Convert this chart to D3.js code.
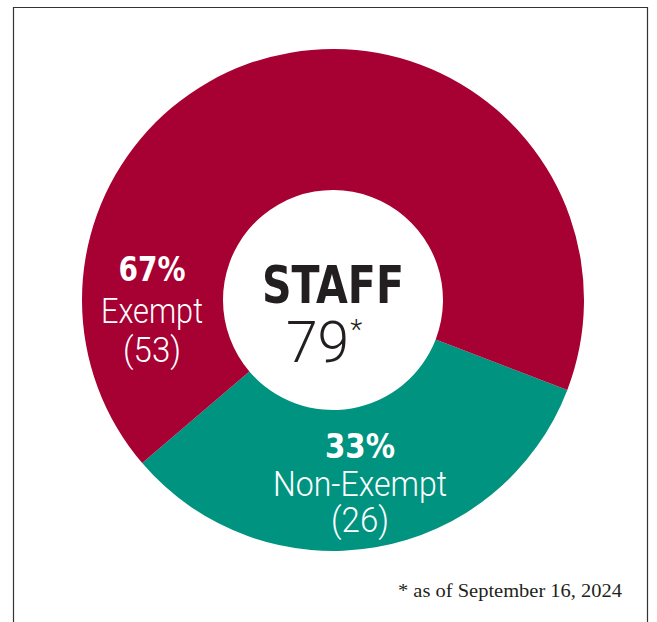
<!DOCTYPE html>
<html><head><meta charset="utf-8">
<script src="https://cdn.jsdelivr.net/npm/d3@7/dist/d3.min.js"></script>
<style>html,body{margin:0;padding:0;background:#fff;}svg{display:block;}</style>
</head><body>
<script>
const categories = ["Non-Exempt", "Exempt"];
const counts = [26, 53];
const percents = ["33%", "67%"];
const colors = ["#00937f", "#a70033"];
const total = 79;
const title = "STAFF";
const footnote = "* as of September 16, 2024";

const W = 657, H = 622;
const cx = 333, cy = 300, R = 251, r = 110;
const svg = d3.select("body").append("svg").attr("width", W).attr("height", H);

// frame
svg.append("path").attr("d", `M13.5,${H} V7.5 H647.5 V${H}`).attr("fill","none").attr("stroke","#333").attr("stroke-width",1.2);

const data = categories.map((c,i)=>({cat:c, count:counts[i], pct:percents[i], color:colors[i]}));
const a0 = 111*Math.PI/180;
const pie = d3.pie().value(d=>d.count).sort(null).startAngle(a0).endAngle(a0+2*Math.PI);
const arc = d3.arc().innerRadius(r).outerRadius(R);
const g = svg.append("g").attr("transform",`translate(${cx},${cy})`);
g.selectAll("path.slice").data(pie(data)).join("path").attr("class","slice")
  .attr("d",arc).attr("fill",d=>d.data.color);

// center
const cond = "'Liberation Sans Narrow','DejaVu Sans Condensed',sans-serif";
svg.append("text").attr("x",cx).attr("y",303).attr("text-anchor","middle")
  .attr("font-family",cond).attr("font-weight","bold").attr("font-size",51).attr("fill","#231f20")
  .attr("textLength",142).attr("lengthAdjust","spacingAndGlyphs").text(title);
const t79 = svg.append("text").attr("x",324).attr("y",362).attr("text-anchor","middle")
  .attr("font-family","Roboto, sans-serif").attr("font-weight",300).attr("font-size",57).attr("fill","#231f20");
t79.append("tspan").text(total);
t79.append("tspan").attr("font-size",28).attr("dy",-23).attr("dx",1).text("*");

// slice labels
const labelPos = {
  "Exempt": {x:152, ys:[281,323,362], w:[67,102,58]},
  "Non-Exempt": {x:360, ys:[458,496,532], w:[70,174,58]}
};
data.forEach(d=>{
  const p = labelPos[d.cat];
  const lines = [
    {t:d.pct, bold:true, size:33},
    {t:d.cat, bold:false, size:35},
    {t:"("+d.count+")", bold:false, size:35}
  ];
  lines.forEach((l,i)=>{
    svg.append("text").attr("x",p.x).attr("y",p.ys[i]).attr("text-anchor","middle")
      .attr("font-family", l.bold ? cond : "Roboto, sans-serif")
      .attr("font-weight", l.bold ? "bold" : 300)
      .attr("font-size", l.size).attr("fill","#fff")
      .attr("textLength", p.w[i]).attr("lengthAdjust","spacingAndGlyphs")
      .text(l.t);
  });
});

svg.append("text").attr("x",622).attr("y",597).attr("text-anchor","end")
  .attr("font-family","'Liberation Serif', serif").attr("font-size",19).attr("fill","#231f20")
  .attr("textLength",224).attr("lengthAdjust","spacingAndGlyphs")
  .text(footnote);
</script>
</body></html>
